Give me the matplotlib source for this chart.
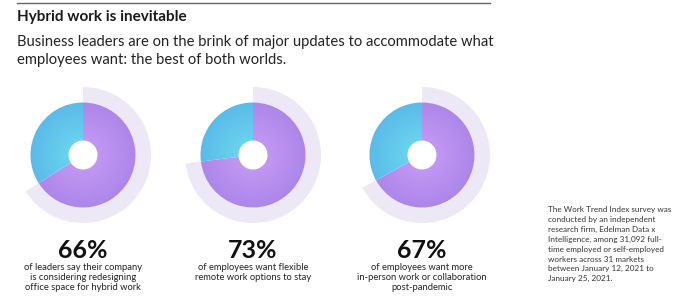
import numpy as np
import matplotlib.pyplot as plt
from matplotlib.patches import Wedge

plt.rcParams['font.family'] = ['Lato', 'DejaVu Sans']

# data
percent = [66, 73, 67]
pct_labels = ['66%', '73%', '67%']
descriptions = [
    'of leaders say their company\nis considering redesigning\noffice space for hybrid work',
    'of employees want flexible\nremote work options to stay',
    'of employees want more\nin-person work or collaboration\npost-pandemic',
]
title = 'Hybrid work is inevitable'
subtitle = ('Business leaders are on the brink of major updates to accommodate what\n'
            'employees want: the best of both worlds.')
note = ('The Work Trend Index survey was\nconducted by an independent\n'
        'research firm, Edelman Data x\nIntelligence, among 31,092 full-\n'
        'time employed or self-employed\nworkers across 31 markets\n'
        'between January 12, 2021 to\nJanuary 25, 2021.')

W, H = 680, 307
fig = plt.figure(figsize=(W / 100, H / 100), dpi=100)
ax = fig.add_axes([0, 0, 1, 1])
ax.set_xlim(0, W)
ax.set_ylim(H, 0)
ax.axis('off')

def px(p):
    # pixel size -> points
    return p * 72 / 100

centers_x = [83, 253, 422]
cy = 155
r_in, r_out, r_ring = 14.5, 52.5, 68


def grad_fill(patch, c_in, c_out, cx):
    # radial gradient clipped to a patch
    n = 200
    xs = np.linspace(cx - r_ring, cx + r_ring, n)
    ys = np.linspace(cy - r_ring, cy + r_ring, n)
    X, Y = np.meshgrid(xs, ys)
    d = np.clip(np.hypot(X - cx, Y - cy) / r_out, 0, 1)[..., None]
    img = np.array(c_in) * (1 - d) + np.array(c_out) * d
    im = ax.imshow(img, extent=(xs[0], xs[-1], ys[-1], ys[0]),
                   interpolation='bilinear', zorder=3)
    im.set_clip_path(patch)


def hexrgb(h):
    h = h.lstrip('#')
    return [int(h[i:i + 2], 16) / 255 for i in (0, 2, 4)]

for cx, p, lab, desc in zip(centers_x, percent, pct_labels, descriptions):
    # y axis is inverted, so angles run clockwise and -90 is 12 o'clock
    end = -90 + 360 * p / 100
    # pale outer ring
    ax.add_patch(Wedge((cx, cy), r_ring, -90, end, width=r_ring - r_out,
                       facecolor='#ece8f5', edgecolor='none', zorder=1))
    # purple share
    w1 = Wedge((cx, cy), r_out, -90, end, width=r_out - r_in,
               facecolor='none', edgecolor='none', zorder=2)
    ax.add_patch(w1)
    grad_fill(w1, hexrgb('#c99ef6'), hexrgb('#ad86ea'), cx)
    # blue rest
    w2 = Wedge((cx, cy), r_out, end, 270, width=r_out - r_in,
               facecolor='none', edgecolor='none', zorder=2)
    ax.add_patch(w2)
    grad_fill(w2, hexrgb('#70dcf2'), hexrgb('#5abbe8'), cx)

    ax.text(cx, 251, lab, ha='center', va='center', fontsize=px(25),
            fontweight='bold', color='#111111')
    ax.text(cx, 263, desc, ha='center', va='top', fontsize=px(9.4),
            color='#222222', linespacing=1.17)

ax.plot([17, 490], [3, 3], color='#666666', lw=1)
ax.text(17, 17, title, ha='left', va='center', fontsize=px(15.2),
        fontweight='bold', color='#1a1a1a')
ax.text(17, 51, subtitle, ha='left', va='center', fontsize=px(14.7),
        color='#222222', linespacing=1.3)
ax.text(548, 206, note, ha='left', va='top', fontsize=px(8.2),
        color='#333333', linespacing=1.48)

fig.savefig('out.png', dpi=100)
